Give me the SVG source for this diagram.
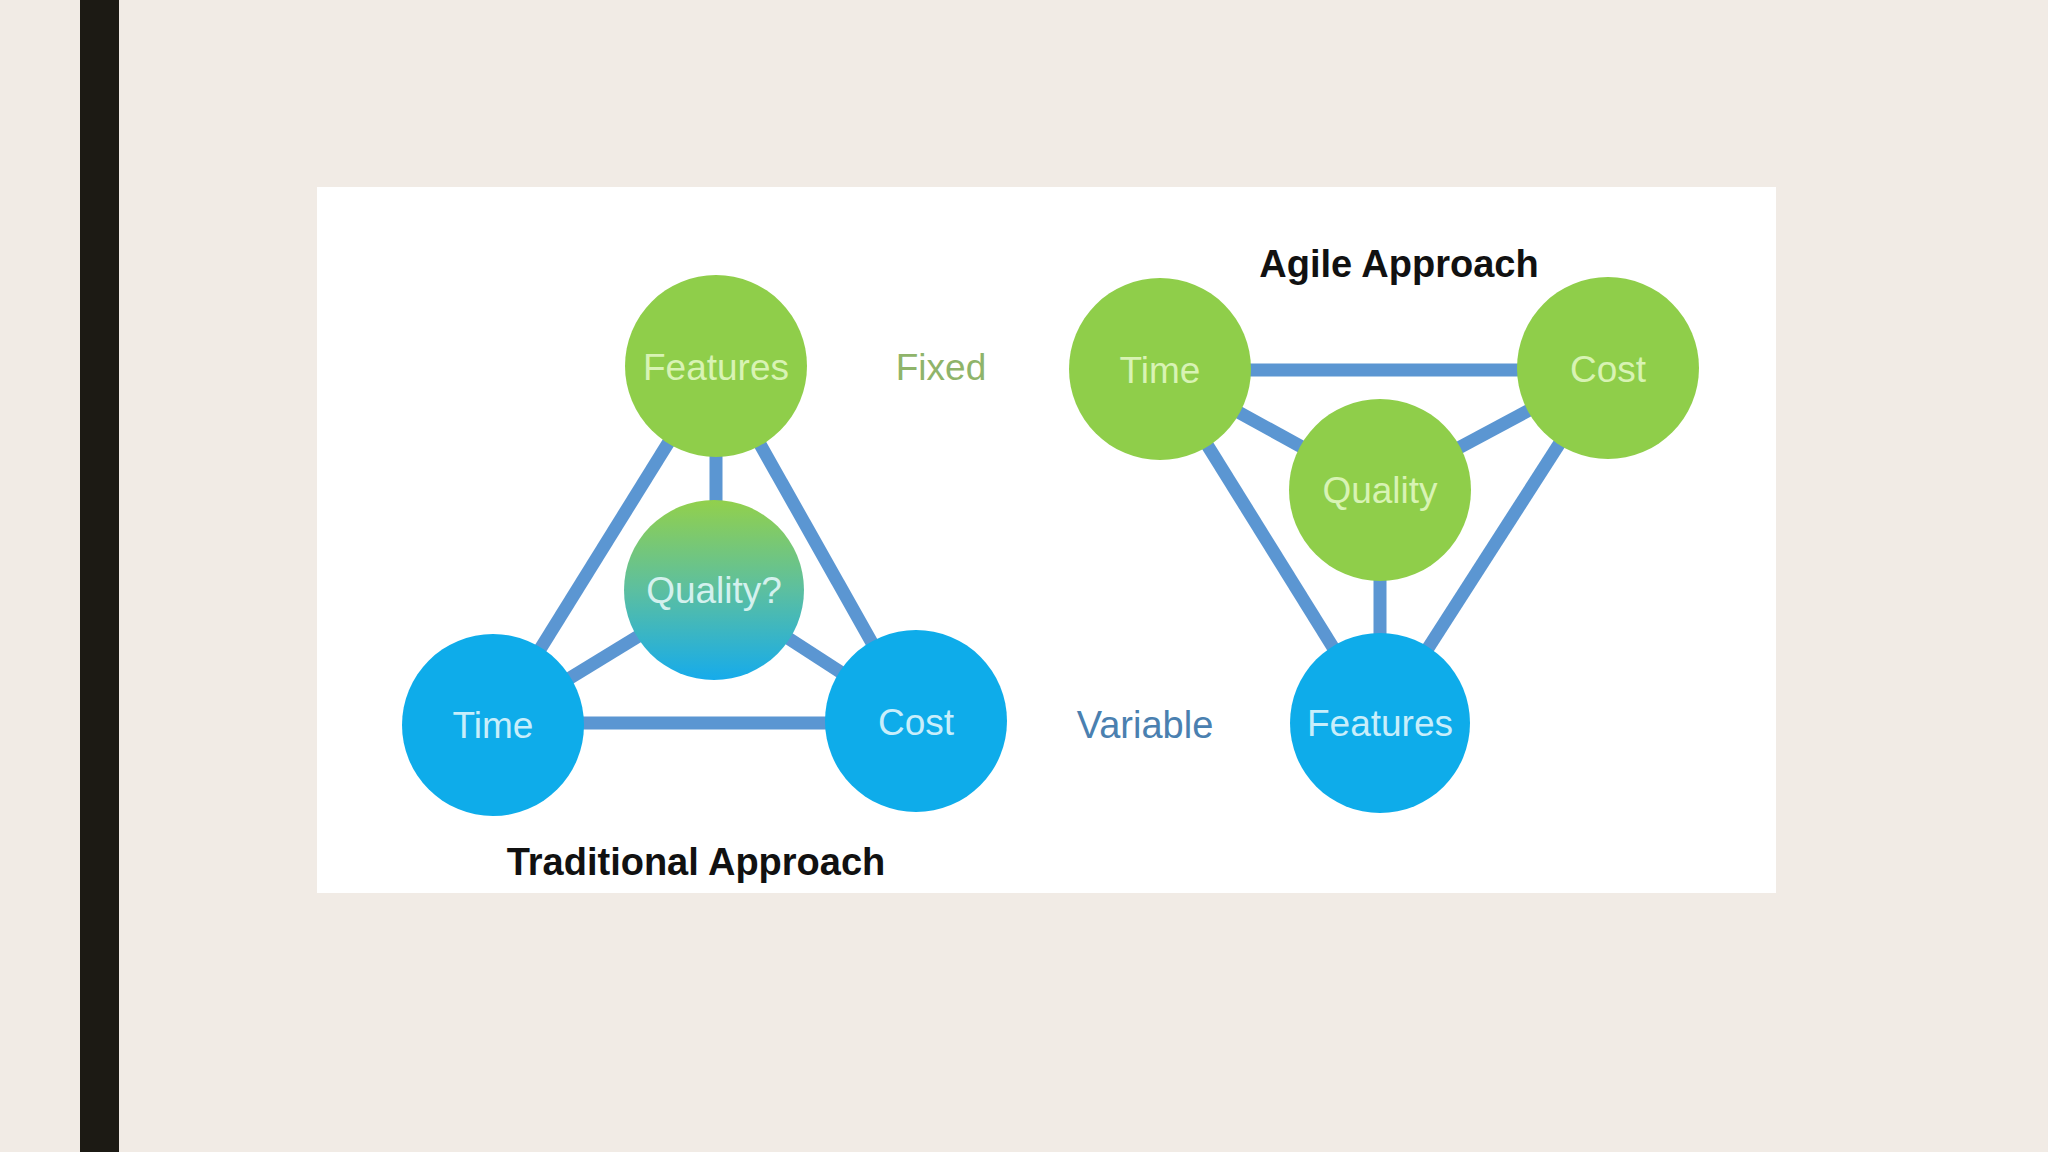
<svg xmlns="http://www.w3.org/2000/svg" width="2048" height="1152" viewBox="0 0 2048 1152">
<defs>
<linearGradient id="qgrad" x1="0" y1="0" x2="0" y2="1">
<stop offset="0" stop-color="#92d04c"/>
<stop offset="0.5" stop-color="#5cbfa0"/>
<stop offset="1" stop-color="#16abeb"/>
</linearGradient>
<style>
.green{fill:#8fce4a}
.blue{fill:#0eacea}
.ctext{font-family:"Liberation Sans",Arial,sans-serif;font-size:37px;text-anchor:middle}
.gt{fill:#d8f3b4}
.bt{fill:#c8eefb}
.conn line{stroke:#5b96d2;stroke-width:13}
.title{font-family:"Liberation Sans",Arial,sans-serif;font-weight:bold;font-size:38px;fill:#111;text-anchor:middle}
</style>
</defs>
<rect x="0" y="0" width="2048" height="1152" fill="#f1ebe5"/>
<rect x="80" y="0" width="39" height="1152" fill="#1c1a14"/>
<rect x="317" y="187" width="1459" height="706" fill="#ffffff"/>

<g id="connectors" class="conn">
<line x1="716" y1="366" x2="493" y2="725"/>
<line x1="716" y1="366" x2="916" y2="721"/>
<line x1="716" y1="366" x2="716" y2="590"/>
<line x1="714" y1="590" x2="493" y2="725"/>
<line x1="714" y1="590" x2="916" y2="721"/>
<line x1="493" y1="723" x2="916" y2="723"/>
<line x1="1160" y1="370" x2="1608" y2="370"/>
<line x1="1160" y1="369" x2="1380" y2="490"/>
<line x1="1608" y1="368" x2="1380" y2="490"/>
<line x1="1160" y1="369" x2="1380" y2="723"/>
<line x1="1608" y1="368" x2="1380" y2="723"/>
<line x1="1380" y1="490" x2="1380" y2="723"/>
</g>

<g id="trad-features">
<circle class="green" cx="716" cy="366" r="91"/>
<text class="ctext gt" x="716" y="380">Features</text>
</g>
<g id="trad-quality">
<circle cx="714" cy="590" r="90" fill="url(#qgrad)"/>
<text class="ctext" x="714" y="603" fill="#d4f1ee">Quality?</text>
</g>
<g id="trad-time">
<circle class="blue" cx="493" cy="725" r="91"/>
<text class="ctext bt" x="493" y="738">Time</text>
</g>
<g id="trad-cost">
<circle class="blue" cx="916" cy="721" r="91"/>
<text class="ctext bt" x="916" y="735">Cost</text>
</g>
<g id="label-fixed">
<text class="ctext" x="941" y="380" fill="#8fb46a">Fixed</text>
</g>
<g id="label-variable">
<text class="ctext" x="1145" y="738" fill="#4a80b0" style="font-size:38px">Variable</text>
</g>
<g id="title-traditional">
<text class="title" x="696" y="875">Traditional Approach</text>
</g>

<g id="title-agile">
<text class="title" x="1399" y="277">Agile Approach</text>
</g>
<g id="agile-time">
<circle class="green" cx="1160" cy="369" r="91"/>
<text class="ctext gt" x="1160" y="383">Time</text>
</g>
<g id="agile-cost">
<circle class="green" cx="1608" cy="368" r="91"/>
<text class="ctext gt" x="1608" y="382">Cost</text>
</g>
<g id="agile-quality">
<circle class="green" cx="1380" cy="490" r="91"/>
<text class="ctext gt" x="1380" y="503">Quality</text>
</g>
<g id="agile-features">
<circle class="blue" cx="1380" cy="723" r="90"/>
<text class="ctext bt" x="1380" y="736">Features</text>
</g>
</svg>
